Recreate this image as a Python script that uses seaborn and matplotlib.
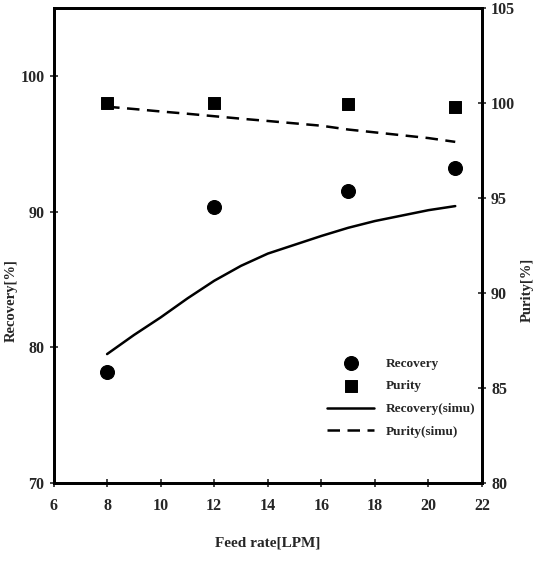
import seaborn as sns
import matplotlib.pyplot as plt
import pandas as pd

# measured points
feed_rate = [8, 12, 17, 21]
recovery = [78.2, 90.3, 91.5, 93.2]
purity = [100.0, 100.0, 99.95, 99.8]

# simulation curves
simu_feed = [8, 9, 10, 11, 12, 13, 14, 16, 17, 18, 20, 21]
recovery_simu = [79.5, 80.9, 82.2, 83.6, 84.9, 86.0, 86.9, 88.2, 88.8, 89.3, 90.1, 90.4]
purity_simu = [99.8, 99.68, 99.55, 99.43, 99.3, 99.17, 99.05, 98.8, 98.6, 98.45, 98.15, 97.95]

meas = pd.DataFrame({"feed": feed_rate, "recovery": recovery, "purity": purity})
simu = pd.DataFrame({"feed": simu_feed, "recovery": recovery_simu, "purity": purity_simu})

sns.set_style("ticks")
plt.rcParams["font.family"] = ["Liberation Serif", "DejaVu Serif"]
plt.rcParams["font.weight"] = "bold"
plt.rcParams["axes.labelweight"] = "bold"

fig = plt.figure(figsize=(5.39, 5.63), dpi=100)
ax = fig.add_axes([0.0993, 0.142, 0.795, 0.844])
ax2 = ax.twinx()

sns.scatterplot(data=meas, x="feed", y="recovery", ax=ax, marker="o", s=100,
                color="black", edgecolor="black", label="Recovery", legend=False)
sns.lineplot(data=simu, x="feed", y="recovery", ax=ax, color="black",
             linewidth=1.8, label="Recovery(simu)", legend=False)
sns.scatterplot(data=meas, x="feed", y="purity", ax=ax2, marker="s", s=75,
                color="black", edgecolor="black", label="Purity", legend=False)
sns.lineplot(data=simu, x="feed", y="purity", ax=ax2, color="black",
             linewidth=1.8, linestyle=(0, (5, 3)), label="Purity(simu)", legend=False)

ax.set_xlim(6, 22)
ax.set_ylim(70, 105)
ax2.set_ylim(80, 105)
ax.set_xticks(range(6, 23, 2))
ax.set_yticks([70, 80, 90, 100])
ax2.set_yticks([80, 85, 90, 95, 100, 105])

ax.set_xlabel("Feed rate[LPM]", fontsize=11, labelpad=16)
ax.set_ylabel("Recovery[%]", fontsize=10.5)
ax2.set_ylabel("Purity[%]", fontsize=10.5, rotation=90)
ax.yaxis.set_label_coords(-0.083, 0.385)
ax2.yaxis.set_label_coords(1.09, 0.406)

for a in (ax, ax2):
    for sp in a.spines.values():
        sp.set_linewidth(2)
        sp.set_color("black")
    a.tick_params(direction="inout", length=6, width=1.2, labelsize=11.5)
ax.tick_params(axis="x", pad=8)

h1, l1 = ax.get_legend_handles_labels()
h2, l2 = ax2.get_legend_handles_labels()
handles = {l: h for h, l in zip(h1 + h2, l1 + l2)}
order = ["Recovery", "Purity", "Recovery(simu)", "Purity(simu)"]
ax.legend([handles[k] for k in order], order, loc="lower left",
          bbox_to_anchor=(0.61, 0.07), frameon=False, fontsize=9.5,
          handlelength=3.6, labelspacing=0.8, handletextpad=0.9)

fig.savefig("out.png", dpi=100)
